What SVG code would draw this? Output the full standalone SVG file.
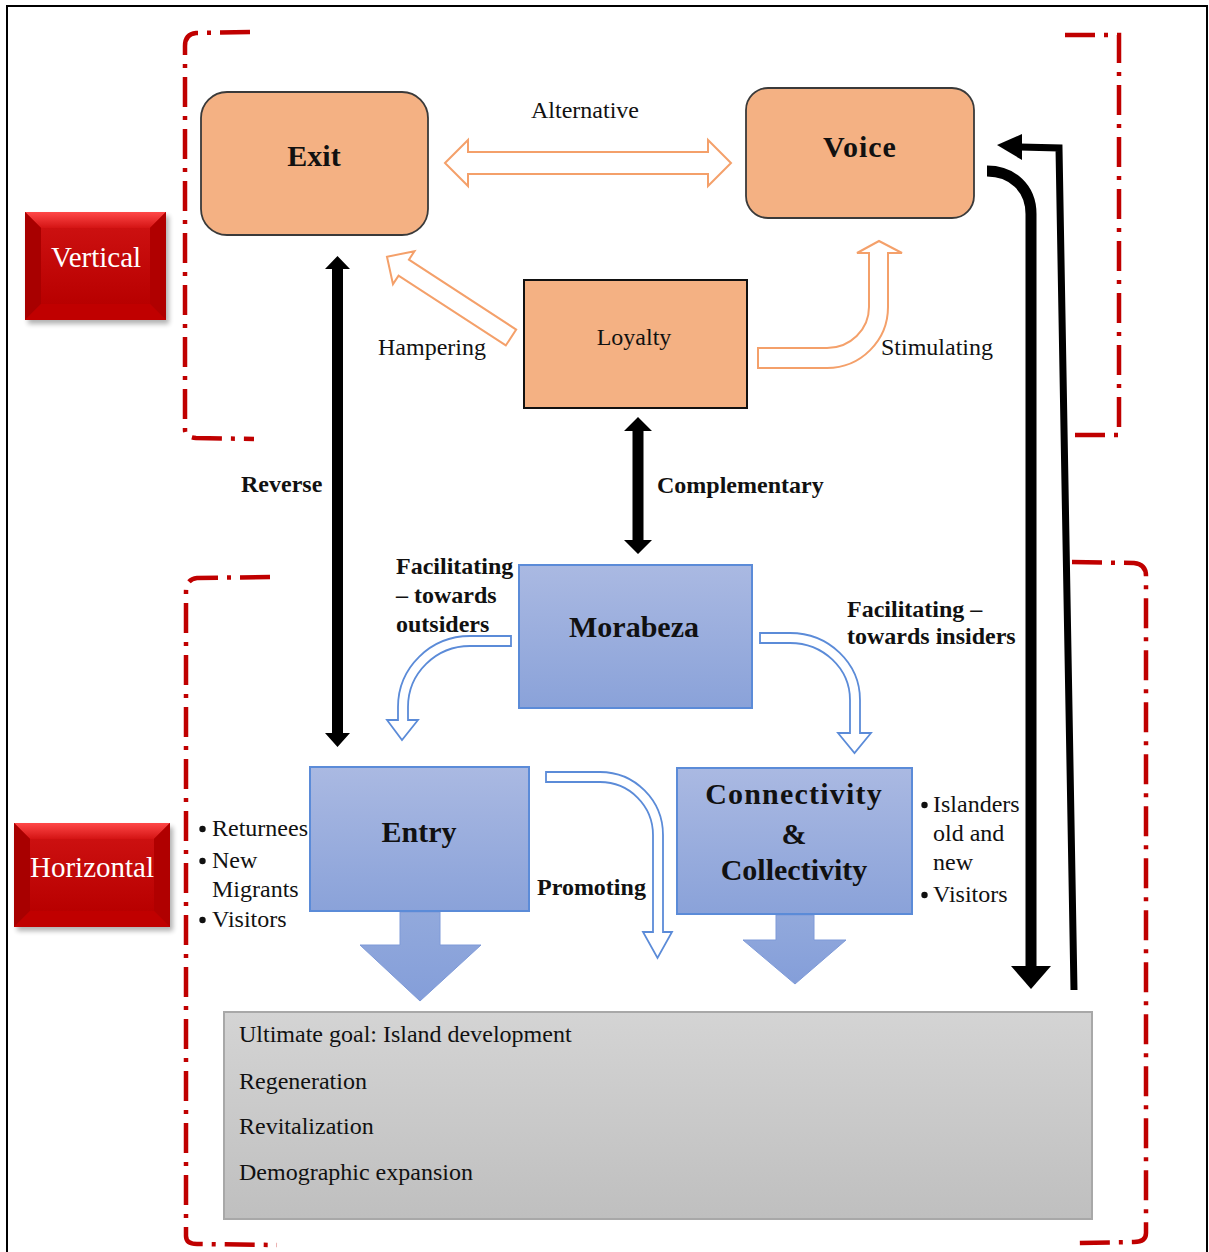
<svg xmlns="http://www.w3.org/2000/svg" width="1209" height="1252" viewBox="0 0 1209 1252">
  <defs>
    <style>
      .serif { font-family: "Liberation Serif", "Times New Roman", serif; fill: #111; }
      .lbl { font-size: 24px; }
      .bold { font-weight: bold; }
      .title { font-size: 30px; font-weight: bold; text-anchor: middle; }
      .mid { text-anchor: middle; }
      .bracket { fill: none; stroke: #c00000; stroke-width: 4.5; stroke-dasharray: 30 9 4 9; }
      .orange-box { fill: #f4b183; }
      .blue-box { fill: url(#blueFill); stroke: #5b8bd8; stroke-width: 2; }
      .orange-arrow { fill: #fff; stroke: #f4a06a; stroke-width: 2; stroke-linejoin: miter; }
      .blue-arrow { fill: #fff; stroke: #5b8bd8; stroke-width: 1.8; stroke-linejoin: miter; }
      .solid-blue { fill: url(#arrowFill); stroke: #7e9ad8; stroke-width: 1; }
      .black { fill: #000; }
      .tag-text { font-family: "Liberation Serif", "Times New Roman", serif; font-size: 29px; fill: #fff; text-anchor: middle; }
    </style>
    <linearGradient id="blueFill" x1="0" y1="0" x2="0" y2="1">
      <stop offset="0" stop-color="#aab9e2"/>
      <stop offset="1" stop-color="#8aa2d9"/>
    </linearGradient>
    <linearGradient id="arrowFill" x1="0" y1="0" x2="0" y2="1">
      <stop offset="0" stop-color="#92a9dc"/>
      <stop offset="1" stop-color="#849ed9"/>
    </linearGradient>
    <linearGradient id="grayFill" x1="0" y1="0" x2="0" y2="1">
      <stop offset="0" stop-color="#d4d4d4"/>
      <stop offset="1" stop-color="#bfbfbf"/>
    </linearGradient>
    <linearGradient id="bevelTop" x1="0" y1="0" x2="0" y2="1">
      <stop offset="0" stop-color="#ff4848"/>
      <stop offset="1" stop-color="#d41414"/>
    </linearGradient>
    <linearGradient id="redFace" x1="0" y1="0" x2="0" y2="1">
      <stop offset="0" stop-color="#cc1010"/>
      <stop offset="1" stop-color="#b80000"/>
    </linearGradient>
    <filter id="shadow" x="-20%" y="-20%" width="140%" height="150%">
      <feGaussianBlur stdDeviation="2.5"/>
    </filter>
  </defs>

  <!-- page frame -->
  <rect x="7" y="6" width="1200" height="1262" fill="#fff" stroke="#000" stroke-width="2"/>

  <!-- dash-dot region brackets -->
  <g id="brackets">
    <path class="bracket" d="M250,32 L196,33 Q185,34 185,46 L185,430 Q185,437 196,438 L254,439"/>
    <path class="bracket" d="M1065,35 L1119,35 L1119,435 L1068,435"/>
    <path class="bracket" d="M270,577 L197,578 Q186,579 186,592 L186,1236 Q186,1244 197,1244 L277,1245"/>
    <path class="bracket" d="M1072,562 L1134,563 Q1146,564 1146,576 L1146,1233 Q1146,1242 1134,1242 L1078,1243"/>
  </g>

  <!-- bevelled red tags -->
  <g id="tag-vertical">
    <rect x="28" y="216" width="141" height="108" fill="#000" opacity="0.3" filter="url(#shadow)"/>
    <rect x="25" y="212" width="141" height="108" fill="#b80000"/>
    <polygon points="25,212 166,212 150,228 41,228" fill="url(#bevelTop)"/>
    <polygon points="25,212 41,228 41,304 25,320" fill="#a80000"/>
    <polygon points="166,212 166,320 150,304 150,228" fill="#b00000"/>
    <polygon points="25,320 166,320 150,304 41,304" fill="#c00000"/>
    <rect x="41" y="228" width="109" height="76" fill="url(#redFace)"/>
    <text class="tag-text" x="96" y="267">Vertical</text>
  </g>
  <g id="tag-horizontal">
    <rect x="17" y="827" width="156" height="104" fill="#000" opacity="0.3" filter="url(#shadow)"/>
    <rect x="14" y="823" width="156" height="104" fill="#b80000"/>
    <polygon points="14,823 170,823 154,839 30,839" fill="url(#bevelTop)"/>
    <polygon points="14,823 30,839 30,911 14,927" fill="#a80000"/>
    <polygon points="170,823 170,927 154,911 154,839" fill="#b00000"/>
    <polygon points="14,927 170,927 154,911 30,911" fill="#c00000"/>
    <rect x="30" y="839" width="124" height="72" fill="url(#redFace)"/>
    <text class="tag-text" x="92" y="877">Horizontal</text>
  </g>

  <!-- connectors -->
  <g id="connectors">
    <!-- Alternative: Exit <-> Voice -->
    <path class="orange-arrow" d="M445,163 L468,140 L468,152 L708,152 L708,140 L731,163 L708,186 L708,174 L468,174 L468,186 Z"/>
    <!-- Hampering: Loyalty -> Exit -->
    <path class="orange-arrow" transform="translate(511,337.5) rotate(213.07)" d="M0,-9.5 L128,-9.5 L128,-19.7 L148,0 L128,19.7 L128,9.5 L0,9.5 Z"/>
    <!-- Stimulating: Loyalty -> Voice -->
    <path class="orange-arrow" d="M758,348 L827,348 A42,41 0 0 0 869,307 L869,253 L857,253 L879,241 L902,253 L888,253 L888,307 A61,61 0 0 1 827,368 L758,368 Z"/>
    <!-- Reverse: Exit <-> Entry -->
    <path class="black" d="M337.5,256 L350,269 L343,269 L343,733 L350,733 L337.5,747 L325,733 L332,733 L332,269 L325,269 Z"/>
    <!-- Complementary: Loyalty <-> Morabeza -->
    <path class="black" d="M638,417 L652,431 L643.5,431 L643.5,540 L652,540 L638,554 L624,540 L632.5,540 L632.5,431 L624,431 Z"/>
    <!-- Facilitating towards outsiders -->
    <path class="blue-arrow" d="M511,636 L470,636 A72,71 0 0 0 398,707 L398,720 L387,720 L402,740 L418,720 L408,720 L408,707 A62,61 0 0 1 470,646 L511,646 Z"/>
    <!-- Facilitating towards insiders -->
    <path class="blue-arrow" d="M760,633 L790,633 A70,67 0 0 1 860,700 L860,733 L871,733 L854.5,753 L838,733 L850,733 L850,700 A60,57 0 0 0 790,643 L760,643 Z"/>
    <!-- Promoting -->
    <path class="blue-arrow" d="M546,772 L600,772 A63,63 0 0 1 663,835 L663,932 L672,932 L657.5,958 L643,932 L653,932 L653,835 A53,53 0 0 0 600,782 L546,782 Z"/>
    <!-- Entry -> goal -->
    <path class="solid-blue" d="M400,912 L440,912 L440,945 L481,945 L420,1001 L360,945 L400,945 Z"/>
    <!-- Connectivity -> goal -->
    <path class="solid-blue" d="M776,915 L814,915 L814,940 L846,940 L795,984 L743,940 L776,940 Z"/>
    <!-- Voice -> goal (thick, curved) -->
    <path d="M987,171 C1012,171 1031,188 1031,214 L1031,966" fill="none" stroke="#000" stroke-width="11"/>
    <path class="black" d="M1011,966 L1051,966 L1031,989 Z"/>
    <!-- goal -> Voice (thin feedback) -->
    <path d="M1074,990 L1059,148 L1020,147" fill="none" stroke="#000" stroke-width="7" stroke-linejoin="miter"/>
    <path class="black" d="M997,145 L1022,134 L1022,160 Z"/>
  </g>

  <!-- arrow labels -->
  <g id="labels" class="serif lbl">
    <text class="mid" x="585" y="118">Alternative</text>
    <text x="378" y="355">Hampering</text>
    <text x="881" y="355">Stimulating</text>
    <text class="bold" x="241" y="492">Reverse</text>
    <text class="bold" x="657" y="493">Complementary</text>
    <text class="bold" x="396" y="574">Facilitating</text>
    <text class="bold" x="396" y="603">– towards</text>
    <text class="bold" x="396" y="632">outsiders</text>
    <text class="bold" x="847" y="617">Facilitating –</text>
    <text class="bold" x="847" y="644">towards insiders</text>
    <text class="bold" x="537" y="895">Promoting</text>
  </g>

  <!-- nodes -->
  <g id="node-exit">
    <rect class="orange-box" x="201" y="92" width="227" height="143" rx="26" stroke="#3a3a3a" stroke-width="1.8"/>
    <text class="serif title" x="314" y="166">Exit</text>
  </g>
  <g id="node-voice">
    <rect class="orange-box" x="746" y="88" width="228" height="130" rx="22" stroke="#3a3a3a" stroke-width="1.8"/>
    <text class="serif title" x="860" y="157" letter-spacing="1">Voice</text>
  </g>
  <g id="node-loyalty">
    <rect class="orange-box" x="524" y="280" width="223" height="128" stroke="#111" stroke-width="2"/>
    <text class="serif lbl mid" x="634" y="345">Loyalty</text>
  </g>
  <g id="node-morabeza">
    <rect class="blue-box" x="519" y="565" width="233" height="143"/>
    <text class="serif title" x="634" y="637">Morabeza</text>
  </g>
  <g id="node-entry">
    <rect class="blue-box" x="310" y="767" width="219" height="144"/>
    <text class="serif title" x="419" y="842">Entry</text>
    <g class="serif lbl">
      <circle cx="202.5" cy="829" r="3.2" fill="#111"/>
      <text x="212" y="836">Returnees</text>
      <circle cx="202.5" cy="861" r="3.2" fill="#111"/>
      <text x="212" y="868">New</text>
      <text x="212" y="897">Migrants</text>
      <circle cx="202.5" cy="920" r="3.2" fill="#111"/>
      <text x="212" y="927">Visitors</text>
    </g>
  </g>
  <g id="node-connectivity">
    <rect class="blue-box" x="677" y="768" width="235" height="146"/>
    <text class="serif title" x="794" y="804" font-size="31" letter-spacing="1.2">Connectivity</text>
    <text class="serif title" x="794" y="844" font-size="28">&amp;</text>
    <text class="serif title" x="794" y="880" font-size="28">Collectivity</text>
    <g class="serif lbl">
      <circle cx="924.5" cy="805" r="3.2" fill="#111"/>
      <text x="933" y="812">Islanders</text>
      <text x="933" y="841">old and</text>
      <text x="933" y="870">new</text>
      <circle cx="924.5" cy="895" r="3.2" fill="#111"/>
      <text x="933" y="902">Visitors</text>
    </g>
  </g>
  <g id="node-goal">
    <rect x="224" y="1012" width="868" height="207" fill="url(#grayFill)" stroke="#a8a8a8" stroke-width="2"/>
    <g class="serif lbl">
      <text x="239" y="1042">Ultimate goal: Island development</text>
      <text x="239" y="1089">Regeneration</text>
      <text x="239" y="1134">Revitalization</text>
      <text x="239" y="1180">Demographic expansion</text>
    </g>
  </g>
</svg>
